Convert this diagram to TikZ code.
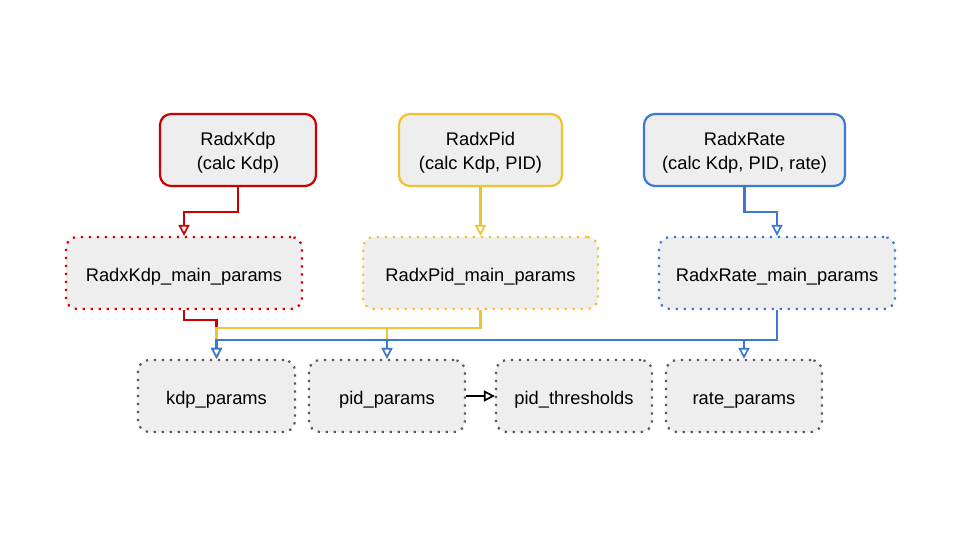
\documentclass[tikz,border=0pt]{standalone}
\usepackage{fontspec}
\setmainfont{Liberation Sans}
\usetikzlibrary{arrows.meta}
\definecolor{cred}{HTML}{CC0000}
\definecolor{cyel}{HTML}{F1C232}
\definecolor{cblu}{HTML}{3C78D8}
\definecolor{cgry}{HTML}{595959}
\definecolor{cfill}{HTML}{EEEEEE}
\tikzset{
  box/.style={rectangle, rounded corners=11pt, fill=cfill, minimum height=72pt, align=center, inner sep=0pt, font=\fontsize{18.3}{23.3}\selectfont},
  topbox/.style={box, line width=2.2pt, text height=38.6pt, text depth=0pt},
  dotbox/.style={box, line width=2.2pt, dash pattern=on 2.2pt off 5.8pt, text height=17.4pt, text depth=0pt},
  conn/.style={line width=2.2pt, -{Triangle[length=11pt, width=11pt, fill=white, line width=1.7pt]}},
}
\begin{document}
\begin{tikzpicture}[x=1pt, y=-1pt]
\useasboundingbox[fill=white] (0,0) rectangle (960,540);
% top row
\node[topbox, draw=cred, minimum width=156pt] (kdp) at (238,150) {RadxKdp\\(calc Kdp)};
\node[topbox, draw=cyel, minimum width=163pt] (pid) at (480.5,150) {RadxPid\\(calc Kdp, PID)};
\node[topbox, draw=cblu, minimum width=201pt] (rate) at (744.5,150) {RadxRate\\(calc Kdp, PID, rate)};
% middle row
\node[dotbox, draw=cred, minimum width=236pt] (kdpm) at (184,273) {RadxKdp\_main\_params};
\node[dotbox, draw=cyel, minimum width=235pt] (pidm) at (480.5,273) {RadxPid\_main\_params};
\node[dotbox, draw=cblu, minimum width=236pt] (ratem) at (777,273) {RadxRate\_main\_params};
% bottom row
\node[dotbox, draw=cgry, minimum width=157pt] (kdpp) at (216.5,396) {kdp\_params};
\node[dotbox, draw=cgry, minimum width=156pt] (pidp) at (387,396) {pid\_params};
\node[dotbox, draw=cgry, minimum width=156pt] (pidt) at (574,396) {pid\_thresholds};
\node[dotbox, draw=cgry, minimum width=156pt] (ratep) at (744,396) {rate\_params};
% top to middle
\draw[conn, cred] (kdp.south) -- ++(0,25) -| (kdpm.north);
\draw[conn, cyel] (pid.south) -- (pidm.north);
\draw[conn, cblu] (rate.south) -- ++(0,25) -| (ratem.north);
% middle to bottom
\draw[conn, cred] (kdpm.south) -- ++(0,10) -| (kdpp.north);
\draw[conn, cyel] (pidm.south) -- ++(0,18) -| (kdpp.north);
\draw[conn, cyel] (pidm.south) -- ++(0,18) -| (pidp.north);
\draw[conn, cblu] (ratem.south) -- ++(0,30) -| (kdpp.north);
\draw[conn, cblu] (ratem.south) -- ++(0,30) -| (pidp.north);
\draw[conn, cblu] (ratem.south) -- ++(0,30) -| (ratep.north);
% pid_params to pid_thresholds
\draw[conn, black] (pidp.east) -- (pidt.west);
\end{tikzpicture}
\end{document}
